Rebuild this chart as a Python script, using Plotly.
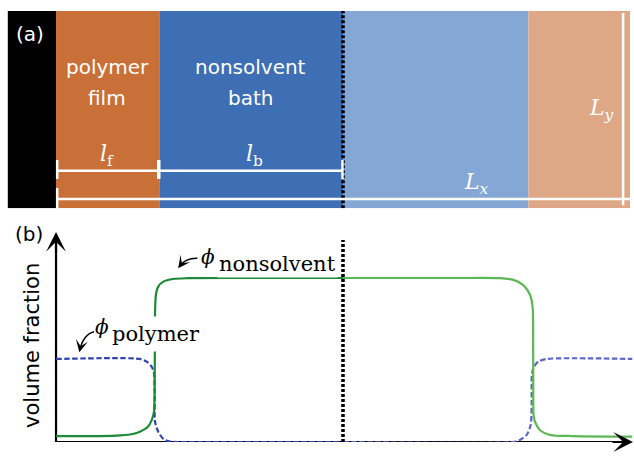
import plotly.graph_objects as go

# ---- panel (a): simulation box regions (x in units of L_x) ----
region_left = [-0.084, 0.0, 0.18, 0.5, 0.823]
region_right = [0.0, 0.18, 0.5, 0.823, 1.0]
region_colors = ["#000000", "#c87038", "#3e6eb4", "#85a7d6", "#dea886"]

# ---- panel (b): volume-fraction profiles ----
nonsolvent_x_left = [0.000, 0.077, 0.112, 0.134, 0.146, 0.160, 0.1667, 0.1707, 0.1718,
                     0.1722, 0.1725, 0.174, 0.178, 0.187, 0.204, 0.228, 0.35, 0.5]
nonsolvent_y_left = [0.031, 0.031, 0.035, 0.042, 0.054, 0.080, 0.115, 0.159, 0.30,
                     0.48, 0.676, 0.770, 0.814, 0.840, 0.854, 0.858, 0.859, 0.859]
nonsolvent_x_right = [0.5, 0.70, 0.7735, 0.797, 0.814, 0.826, 0.8305, 0.8313, 0.8315,
                      0.832, 0.8345, 0.843, 0.861, 0.901, 1.004]
nonsolvent_y_right = [0.859, 0.859, 0.858, 0.849, 0.822, 0.770, 0.702, 0.50, 0.30,
                      0.141, 0.106, 0.063, 0.037, 0.031, 0.028]

polymer_x_left = [0.0, 0.146, 0.158, 0.1667, 0.1707, 0.172, 0.1725, 0.178, 0.187,
                  0.199, 0.25, 0.5]
polymer_y_left = [0.435, 0.435, 0.421, 0.394, 0.361, 0.25, 0.106, 0.054, 0.016,
                  0.002, 0.0, 0.0]
polymer_x_right = [0.5, 0.795, 0.808, 0.820, 0.827, 0.8287, 0.8290, 0.8315, 0.840,
                   0.855, 1.004]
polymer_y_right = [0.0, 0.0, 0.010, 0.037, 0.089, 0.20, 0.351, 0.386, 0.421,
                   0.435, 0.435]

GREEN_DARK = "#1c8a38"
GREEN_LIGHT = "#5cb854"
BLUE_DARK = "#3044b0"
BLUE_LIGHT = "#5c66c8"

fig = go.Figure()

# simulation box regions as bars on the upper axis
centers = [(a + b) / 2 for a, b in zip(region_left, region_right)]
widths = [b - a for a, b in zip(region_left, region_right)]
fig.add_trace(go.Bar(x=centers, y=[1] * len(centers), width=widths, base=0,
                     marker=dict(color=region_colors, line=dict(width=0)),
                     xaxis="x", yaxis="y2", hoverinfo="skip"))

profile_lines = [
    (polymer_x_left, polymer_y_left, BLUE_DARK, "5.5px,2.5px", 2.2),
    (polymer_x_right, polymer_y_right, BLUE_LIGHT, "5.5px,2.5px", 2.2),
    (nonsolvent_x_left, nonsolvent_y_left, GREEN_DARK, "solid", 2.2),
    (nonsolvent_x_right, nonsolvent_y_right, GREEN_LIGHT, "solid", 2.2),
]
for xs, ys, col, dash, w in profile_lines:
    fig.add_trace(go.Scatter(x=xs, y=ys, mode="lines",
                             line=dict(color=col, width=w, dash=dash,
                                       shape="spline", smoothing=0.7),
                             xaxis="x", yaxis="y", hoverinfo="skip"))

shapes = []
# axes of panel (b)
shapes.append(dict(type="line", xref="x", yref="y", x0=0, x1=1.0, y0=0, y1=0,
                   line=dict(color="black", width=2.2), layer="below"))
shapes.append(dict(type="line", xref="x", yref="y", x0=0, x1=0, y0=0, y1=1.08,
                   line=dict(color="black", width=2.2), layer="below"))
# mid-plane dotted line through both panels
DOT = "3px,2px"
shapes.append(dict(type="line", xref="x", yref="y", x0=0.5, x1=0.5, y0=0, y1=1.058,
                   line=dict(color="black", width=3.6, dash=DOT), layer="above"))
shapes.append(dict(type="line", xref="x", yref="y2", x0=0.5, x1=0.5, y0=0, y1=1,
                   line=dict(color="black", width=3.6, dash=DOT), layer="above"))

# white dimension brackets in panel (a)
W = "white"
def seg(x0, y0, x1, y1, w=2.5):
    shapes.append(dict(type="line", xref="x", yref="y2", x0=x0, y0=y0, x1=x1, y1=y1,
                       line=dict(color=W, width=w), layer="above"))

yb = 0.19
seg(0.002, yb, 0.18, yb)
seg(0.18, yb, 0.5, yb)
seg(0.002, 0.148, 0.002, 0.245)
seg(0.179, 0.148, 0.179, 0.245, 3.5)
seg(0.499, 0.148, 0.499, 0.245)
yL = 0.047
seg(0.002, yL, 1.0, yL)
seg(0.002, 0.0, 0.002, 0.103)
seg(0.988, 0.015, 0.988, 0.99)

# curved label arrows
shapes.append(dict(type="path", xref="x", yref="y",
                   path="M 0.2462 0.962 Q 0.2258 0.964 0.2140 0.918",
                   line=dict(color="black", width=1.5)))
shapes.append(dict(type="path", xref="x", yref="y",
                   path="M 0.0662 0.578 Q 0.0476 0.565 0.0410 0.478",
                   line=dict(color="black", width=1.5)))

ann = []
SANS = "DejaVu Sans"
SERIF = "DejaVu Serif"

def text(x, y, s, size, color="black", family=SANS, yref="y2", **kw):
    d = dict(x=x, y=y, xref="x", yref=yref, text=s, showarrow=False,
             font=dict(family=family, size=size, color=color))
    d.update(kw)
    ann.append(d)

# panel (a) labels
text(-0.046, 0.885, "(a)", 20, W)
text(0.0895, 0.718, "polymer", 20, W)
text(0.0895, 0.558, "film", 20, W)
text(0.338, 0.718, "nonsolvent", 20, W)
text(0.338, 0.558, "bath", 20, W)
text(0.089, 0.27, "<i>l</i><sub>f</sub>", 22, W, SERIF)
text(0.346, 0.27, "<i>l</i><sub>b</sub>", 22, W, SERIF)
text(0.733, 0.125, "<i>L</i><sub><i>x</i></sub>", 22, W, SERIF)
text(0.951, 0.50, "<i>L</i><sub><i>y</i></sub>", 22, W, SERIF)

# panel (b) labels
text(-0.047, 1.09, "(b)", 20, yref="y")
text(-0.042, 0.508, "volume fraction", 21, yref="y", textangle=-90)
text(0.5017, -0.094, "<i>x</i>", 28, family=SERIF, yref="y")
text(0.175, 0.565, "polymer", 21, family=SERIF, yref="y",
     bgcolor="white", borderpad=5)
text(0.080, 0.602, "<i>ϕ</i>", 20, family=SERIF, yref="y")
text(0.386, 0.930, "nonsolvent", 21, family=SERIF, yref="y",
     bgcolor="white")
text(0.265, 0.969, "<i>ϕ</i>", 20, family=SERIF, yref="y")

# arrowheads
def head(x, y, ax, ay, width, size, style):
    ann.append(dict(x=x, y=y, xref="x", yref="y", ax=ax, ay=ay, text="",
                    showarrow=True, arrowhead=style, arrowwidth=width,
                    arrowsize=size, arrowcolor="black", standoff=0))

head(0, 1.1, 0, 22, 2.2, 1.5, 3)
head(1.0052, 0, -22, 0, 2.2, 1.5, 3)
head(0.2131, 0.910, 3.5, -4.9, 1.5, 1.35, 3)
head(0.0406, 0.470, 1.3, -5.9, 1.5, 1.35, 3)

fig.update_layout(
    width=634, height=470,
    margin=dict(l=0, r=0, t=0, b=0),
    paper_bgcolor="white", plot_bgcolor="rgba(0,0,0,0)",
    showlegend=False,
    xaxis=dict(range=[-0.0976, 1.007], domain=[0, 1], visible=False, fixedrange=True),
    yaxis=dict(range=[0, 1.1], domain=[0.05957, 0.50638], visible=False, fixedrange=True),
    yaxis2=dict(range=[0, 1], domain=[0.5568, 0.9766], visible=False, anchor="x",
                fixedrange=True),
    shapes=shapes, annotations=ann,
)

fig.write_html("out.html")
